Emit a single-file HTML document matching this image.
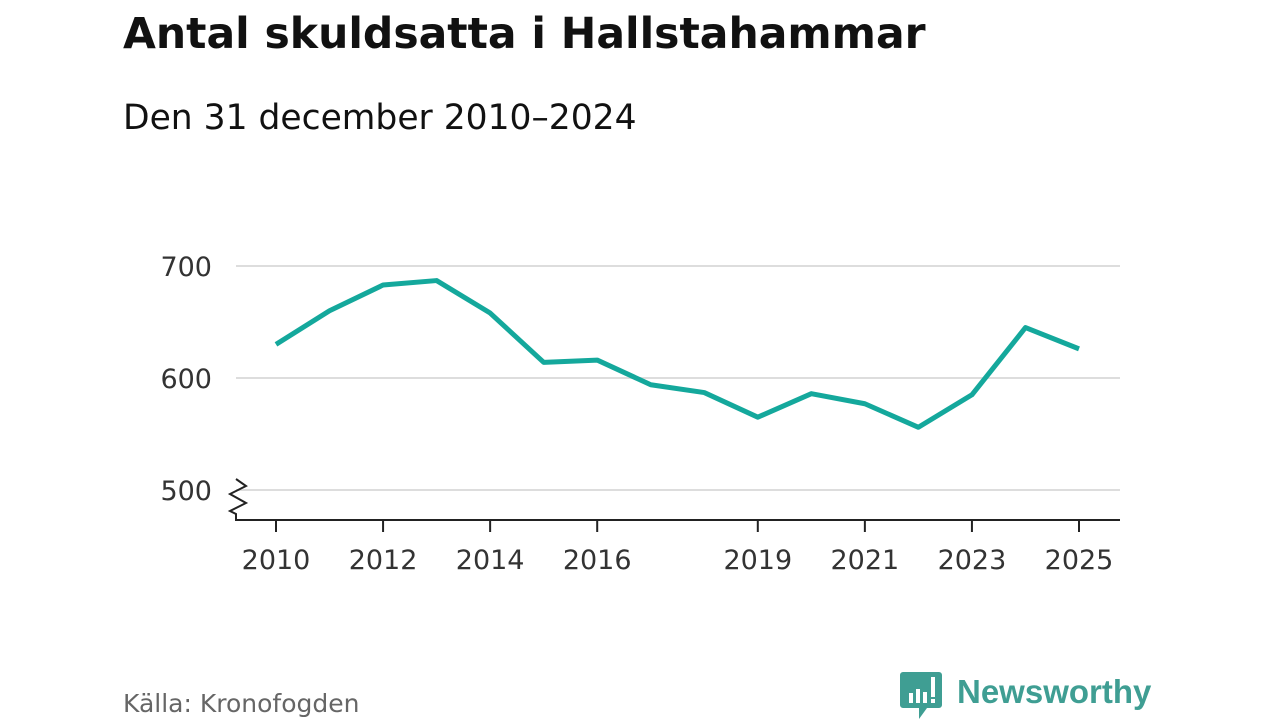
<!DOCTYPE html>
<html><head><meta charset="utf-8"><style>
body{margin:0;width:1280px;height:720px;background:#fff;overflow:hidden;font-family:"DejaVu Sans","Liberation Sans",sans-serif;}
</style></head><body>
<svg width="1280" height="720">
<text x="123" y="48" font-size="42.5" font-weight="bold" fill="#111">Antal skuldsatta i Hallstahammar</text>
<text x="123" y="129" font-size="34.5" fill="#111">Den 31 december 2010–2024</text>
<g id="grid"></g><g id="axes"></g>
<path id="line" fill="none" stroke="#14a89c" stroke-width="5" stroke-linejoin="round"/>
<text x="123" y="712" font-size="25" fill="#666">Källa: Kronofogden</text>
<g>
<path d="M903 672 h36 a3 3 0 0 1 3 3 v30 a3 3 0 0 1 -3 3 h-12 l-8 11 v-11 h-16 a3 3 0 0 1 -3 -3 v-30 a3 3 0 0 1 3 -3z" fill="#3f9e93"/>
<rect x="909" y="693" width="4" height="10" fill="#fff"/><rect x="916" y="689" width="4" height="14" fill="#fff"/><rect x="923" y="692" width="4" height="11" fill="#fff"/><rect x="931" y="677" width="4" height="20" fill="#fff"/><rect x="931" y="699" width="4" height="4" fill="#fff"/>
<text x="957" y="703" font-size="33" font-weight="bold" fill="#3f9e93" font-family="Liberation Sans, sans-serif">Newsworthy</text>
</g>
</svg>
<script>
const years=[2010,2011,2012,2013,2014,2015,2016,2017,2018,2019,2020,2021,2022,2023,2024,2025];
const values=[630,660,683,687,658,614,616,594,587,565,586,577,556,585,645,626];
const yTicks=[500,600,700];
const xTicks=[2010,2012,2014,2016,2019,2021,2023,2025];
const NS="http://www.w3.org/2000/svg";
const x=y=>276+(y-2010)*(1079-276)/15;
const yS=v=>490-(v-500)*1.12;
const grid=document.getElementById('grid'),axes=document.getElementById('axes');
function mk(tag,attrs,parent,txt){const e=document.createElementNS(NS,tag);for(const k in attrs)e.setAttribute(k,attrs[k]);if(txt!==undefined)e.textContent=txt;parent.appendChild(e);return e;}
yTicks.forEach(v=>{
 const l=mk('line',{x1:236,x2:1120,y1:yS(v),y2:yS(v),stroke:'#ddd','stroke-width':2},grid);
 
 
 const t=mk('text',{x:212,y:yS(v)+10,'font-size':27,fill:'#333','text-anchor':'end'},grid,v);
 
 
});
const ax=mk('path',{d:'M236 479 L246 486 L230 494 L246 503 L230 511 L236 514 V520 H1120',fill:'none',stroke:'#222','stroke-width':2},axes);


xTicks.forEach(yr=>{
 const l=mk('line',{x1:x(yr),x2:x(yr),y1:520,y2:532,stroke:'#222','stroke-width':2},axes);
 
 
 const t=mk('text',{x:x(yr),y:569,'font-size':27,fill:'#333','text-anchor':'middle'},axes,yr);
 
 
});
document.getElementById('line').setAttribute('d',years.map((yr,i)=>(i?'L':'M')+x(yr)+' '+yS(values[i])).join(' '));
</script>
</body></html>
